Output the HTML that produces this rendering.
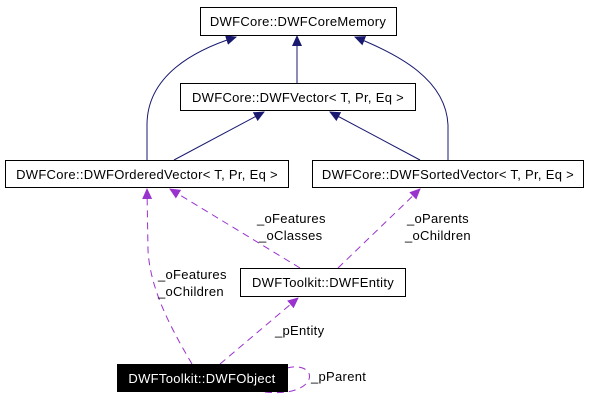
<!DOCTYPE html>
<html><head><style>
body{margin:0;background:#fff;}
svg{display:block;font-family:"Liberation Sans",sans-serif;font-size:13px;letter-spacing:0.3px;}
</style></head><body>
<svg width="589" height="403" viewBox="0 0 589 403" xmlns="http://www.w3.org/2000/svg">
<defs>
<marker id="a" markerWidth="11" markerHeight="10" refX="10" refY="5" orient="auto" markerUnits="userSpaceOnUse"><path d="M0,0 L11,5 L0,10 z" fill="#191970"/></marker>
<marker id="p" markerWidth="11" markerHeight="10" refX="10" refY="5" orient="auto" markerUnits="userSpaceOnUse"><path d="M0,0 L11,5 L0,10 z" fill="#9a32cd"/></marker>
</defs>
<g fill="none" stroke="#191970" stroke-width="1">
<path d="M297,83 L297,36" marker-end="url(#a)"/>
<path d="M147,160 L147,125 C147,75 195,50 236,37" marker-end="url(#a)"/>
<path d="M448,160 L448,125 C446,80 400,55 355,37" marker-end="url(#a)"/>
<path d="M174,160 L264,112" marker-end="url(#a)"/>
<path d="M420,160 L330,112" marker-end="url(#a)"/>
</g>
<g fill="none" stroke="#9a32cd" stroke-width="1" stroke-dasharray="7,5">
<path d="M192,364 C172,330 150,290 148,250 L147,189" marker-end="url(#p)"/>
<path d="M300,268 L170,189" marker-end="url(#p)"/>
<path d="M338,268 L420,189" marker-end="url(#p)"/>
<path d="M220,364 L298,298" marker-end="url(#p)"/>
<path d="M287,368 C320,360 320,398 265,392 C250,390 248,377 244,366" marker-end="url(#p)"/>
</g>
<g stroke="#000" stroke-width="1" fill="#fff">
<rect x="200.5" y="7.5" width="196" height="28"/>
<rect x="180.5" y="83.5" width="235" height="27"/>
<rect x="5.5" y="160.5" width="283" height="27"/>
<rect x="312.5" y="160.5" width="271" height="27"/>
<rect x="240.5" y="268.5" width="165" height="28"/>
<rect x="117.5" y="364.5" width="170" height="27" fill="#000"/>
</g>
<g fill="#000" text-anchor="middle">
<text x="298" y="26">DWFCore::DWFCoreMemory</text>
<text x="298" y="102">DWFCore::DWFVector&lt; T, Pr, Eq &gt;</text>
<text x="147" y="179">DWFCore::DWFOrderedVector&lt; T, Pr, Eq &gt;</text>
<text x="448" y="179">DWFCore::DWFSortedVector&lt; T, Pr, Eq &gt;</text>
<text x="323" y="287">DWFToolkit::DWFEntity</text>
<text x="202" y="383" fill="#fff">DWFToolkit::DWFObject</text>
</g>
<g fill="#000">
<text x="257" y="223">_oFeatures</text>
<text x="259" y="240">_oClasses</text>
<text x="407" y="223">_oParents</text>
<text x="405" y="240">_oChildren</text>
<text x="158" y="279">_oFeatures</text>
<text x="158" y="296">_oChildren</text>
<text x="275" y="335">_pEntity</text>
<text x="311" y="381">_pParent</text>
</g>
</svg>
</body></html>
